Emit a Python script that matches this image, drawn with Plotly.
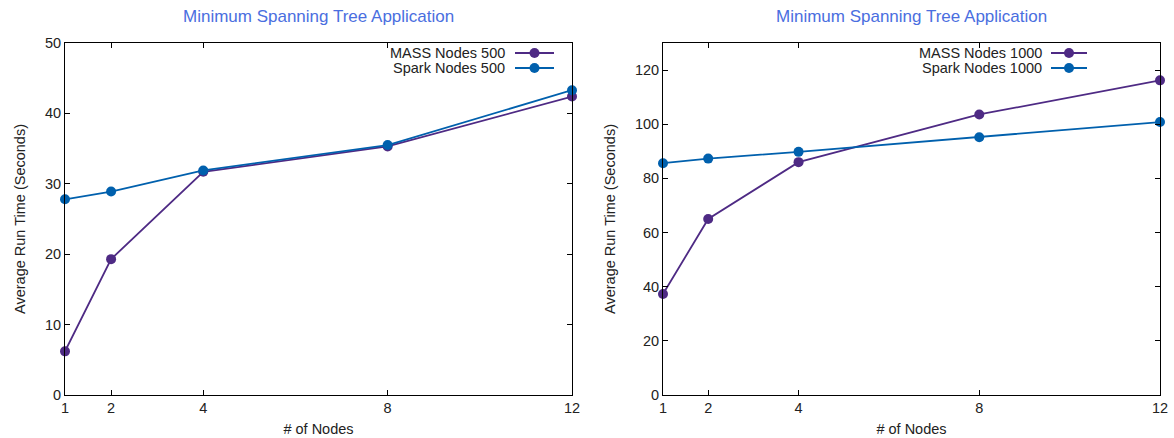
import plotly.graph_objects as go

nodes = [1, 2, 4, 8, 12]
mass_500 = [6.2, 19.3, 31.7, 35.3, 42.4]
spark_500 = [27.8, 28.9, 31.9, 35.5, 43.3]
mass_1000 = [37.3, 65.0, 86.0, 103.6, 116.2]
spark_1000 = [85.6, 87.3, 89.8, 95.2, 100.8]

x_ticks = [1, 2, 4, 8, 12]
title_text = "Minimum Spanning Tree Application"
purple = "#4e2a84"
blue = "#0060ad"
font_family = "Liberation Sans, Arial, sans-serif"

W, H = 1174, 438
fig = go.Figure()

def add(x, y, color, xa, ya, name):
    fig.add_trace(go.Scatter(x=x, y=y, mode="lines+markers", name=name,
                             line=dict(color=color, width=1.8),
                             marker=dict(color=color, size=10, symbol="circle"),
                             xaxis=xa, yaxis=ya, showlegend=False, cliponaxis=False))

add(nodes, mass_500, purple, "x", "y", "MASS Nodes 500")
add(nodes, spark_500, blue, "x", "y", "Spark Nodes 500")
add(nodes, mass_1000, purple, "x2", "y2", "MASS Nodes 1000")
add(nodes, spark_1000, blue, "x2", "y2", "Spark Nodes 1000")

ax_common = dict(showline=True, linecolor="black", linewidth=1, mirror="ticks",
                 ticks="inside", ticklen=5, tickcolor="black", showgrid=False,
                 zeroline=False, automargin=False, tickfont=dict(size=14.5, color="#222"))

top_px, bot_px = 43, 395
ydom = [(H - bot_px) / H, (H - top_px) / H]
fig.update_layout(
    width=W, height=H, margin=dict(l=0, r=0, t=0, b=0), autosize=False,
    plot_bgcolor="white", paper_bgcolor="white",
    font=dict(family=font_family, color="#222"),
    xaxis=dict(domain=[65 / W, 572 / W], range=[1, 12], tickvals=x_ticks,
               title=dict(text="# of Nodes", font=dict(size=14.5), standoff=8), anchor="y", **ax_common),
    yaxis=dict(domain=ydom, range=[0, 50], dtick=10,
               title=dict(text="Average Run Time (Seconds)", font=dict(size=14.5), standoff=15), anchor="x", **ax_common),
    xaxis2=dict(domain=[663 / W, 1160 / W], range=[1, 12], tickvals=x_ticks,
                title=dict(text="# of Nodes", font=dict(size=14.5), standoff=8), anchor="y2", **ax_common),
    yaxis2=dict(domain=ydom, range=[0, 130], dtick=20,
                title=dict(text="Average Run Time (Seconds)", font=dict(size=14.5), standoff=15), anchor="x2", **ax_common),
)

annotations = []
shapes = []
for cx in (318, 911):
    annotations.append(dict(x=cx / W, y=1 - 17 / H, xref="paper", yref="paper",
                            text=title_text, showarrow=False,
                            font=dict(size=17, color="#4a6ee0"), xanchor="center", yanchor="middle"))

legend_specs = [
    (507, 515, 554, [("MASS Nodes 500", purple), ("Spark Nodes 500", blue)]),
    (1044, 1051, 1087, [("MASS Nodes 1000", purple), ("Spark Nodes 1000", blue)]),
]
for text_right, lx0, lx1, items in legend_specs:
    for i, (label, color) in enumerate(items):
        yp = 53 + 15 * i
        yy = 1 - yp / H
        annotations.append(dict(x=text_right / W, y=yy, xref="paper", yref="paper",
                                text=label, showarrow=False, xanchor="right", yanchor="middle",
                                font=dict(size=14.5, color="#222")))
        shapes.append(dict(type="line", xref="paper", yref="paper",
                           x0=lx0 / W, x1=lx1 / W, y0=yy, y1=yy,
                           line=dict(color=color, width=1.8)))
        shapes.append(dict(type="circle", xref="paper", yref="paper",
                           xsizemode="pixel", ysizemode="pixel",
                           xanchor=(lx0 + lx1) / 2 / W, yanchor=yy,
                           x0=-5, x1=5, y0=-5, y1=5,
                           fillcolor=color, line=dict(color=color, width=0)))

fig.update_layout(annotations=annotations, shapes=shapes)
fig.write_html("out.html", config={"displayModeBar": False},
               post_script="document.body.style.margin='0';document.body.style.overflow='hidden';")
